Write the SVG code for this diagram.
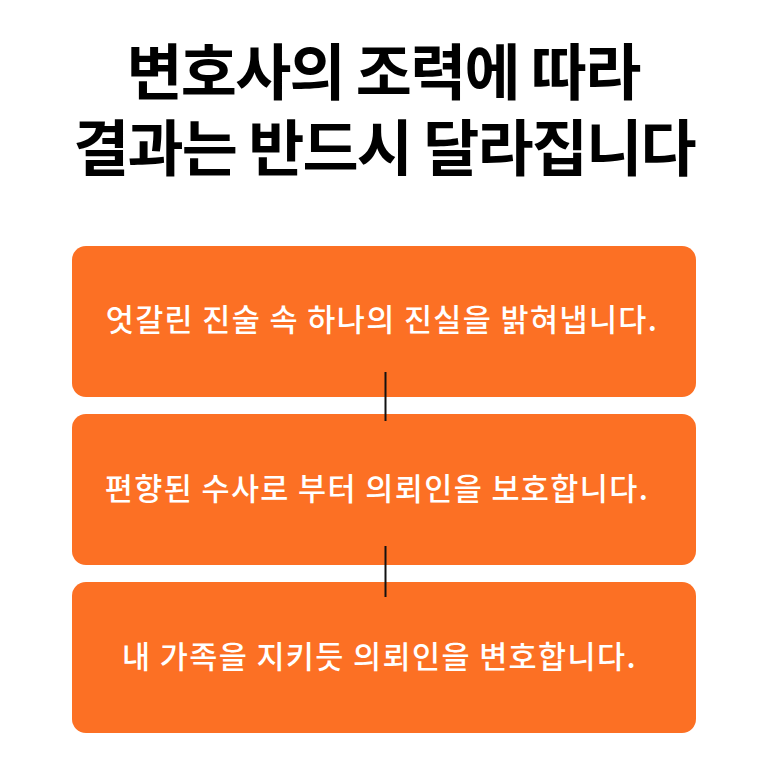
<svg xmlns="http://www.w3.org/2000/svg" width="768" height="768" viewBox="0 0 768 768">
<style>
.title{font-family:"Noto Sans CJK KR","Noto Sans",sans-serif;font-weight:700;font-size:61px;fill:#000;text-anchor:middle;letter-spacing:-1.8px}
.box{fill:#FC7024}
.lbl{font-family:"Noto Sans CJK KR","Noto Sans",sans-serif;font-weight:500;font-size:30.5px;fill:#fff;text-anchor:middle;letter-spacing:1.4px}
.conn{stroke:#111;stroke-width:2}
</style>
<rect width="768" height="768" fill="#fff"/>
<g id="title">
<text class="title" x="383" y="95">변호사의 조력에 따라</text>
<text class="title" x="384" y="171">결과는 반드시 달라집니다</text>
</g>
<g id="node1"><rect class="box" x="72" y="246" width="624" height="151" rx="14"/><text class="lbl" x="382" y="331">엇갈린 진술 속 하나의 진실을 밝혀냅니다.</text></g>
<g id="node2"><rect class="box" x="72" y="414" width="624" height="151" rx="14"/><text class="lbl" x="377" y="500">편향된 수사로 부터 의뢰인을 보호합니다.</text></g>
<g id="node3"><rect class="box" x="72" y="582" width="624" height="151" rx="14"/><text class="lbl" x="379.5" y="668">내 가족을 지키듯 의뢰인을 변호합니다.</text></g>
<g id="connectors">
<line class="conn" x1="385.5" y1="372" x2="385.5" y2="421"/>
<line class="conn" x1="385.5" y1="546" x2="385.5" y2="597"/>
</g>
</svg>
